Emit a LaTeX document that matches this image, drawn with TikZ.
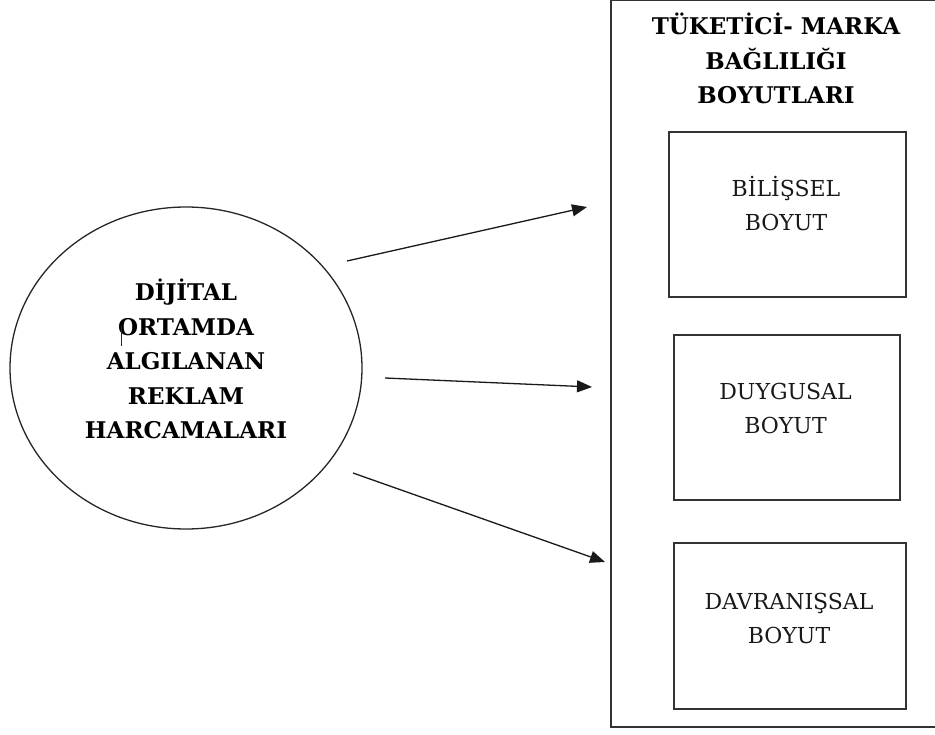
\documentclass[tikz,border=0pt]{standalone}
\usepackage{fontspec}
\setmainfont{DejaVu Serif}
\usetikzlibrary{arrows.meta,shapes.geometric}
\begin{document}
\begin{tikzpicture}[x=1pt,y=-1pt,
  frame/.style={draw=black!80, line width=1.4pt},
  dimbox/.style={frame, rectangle, inner sep=0pt},
  boldtxt/.style={font=\fontsize{23}{34.5}\selectfont\bfseries, align=center, inner sep=0pt},
  plaintxt/.style={font=\fontsize{22}{34}\selectfont, align=center, inner sep=0pt, text=black!90},
  link/.style={draw=black!90, line width=1.3pt, -{Triangle[length=15pt,width=12pt]}}
]
\useasboundingbox (0,0) rectangle (935,735);
\begin{scope}
\clip (0,0) rectangle (935,735);
\node[dimbox, minimum width=334pt, minimum height=727pt] (outer) at (778,363.5) {};
\end{scope}
% source ellipse
\node[ellipse, draw=black!85, line width=1.3pt, minimum width=352pt, minimum height=322pt, inner sep=0pt] (src) at (186,368) {};
\node[boldtxt] (srctxt) at (186,359) {DİJİTAL\\ORTAMDA\\ALGILANAN\\REKLAM\\HARCAMALARI};
\draw[line width=0.9pt, black!85] (121,325) -- (121,346);
% title
\node[boldtxt] (title) at (776,58.5) {TÜKETİCİ- MARKA\\BAĞLILIĞI\\BOYUTLARI};
% dimension boxes
\node[dimbox, minimum width=237pt, minimum height=165pt] (b1) at (787.5,214.5) {};
\node[dimbox, minimum width=226pt, minimum height=165pt] (b2) at (787,417.5) {};
\node[dimbox, minimum width=232pt, minimum height=166pt] (b3) at (790,626) {};
\node[plaintxt] (t1) at (786,203.5) {BİLİŞSEL\\BOYUT};
\node[plaintxt] (t2) at (785.5,408) {DUYGUSAL\\BOYUT};
\node[plaintxt] (t3) at (789,618.5) {DAVRANIŞSAL\\BOYUT};
% arrows
\coordinate (a1s) at (347,261); \coordinate (a1e) at (587,207);
\coordinate (a2s) at (385,378); \coordinate (a2e) at (592,387);
\coordinate (a3s) at (353,473); \coordinate (a3e) at (605,562);
\draw[link] (a1s) -- (a1e);
\draw[link] (a2s) -- (a2e);
\draw[link] (a3s) -- (a3e);
\end{tikzpicture}
\end{document}
